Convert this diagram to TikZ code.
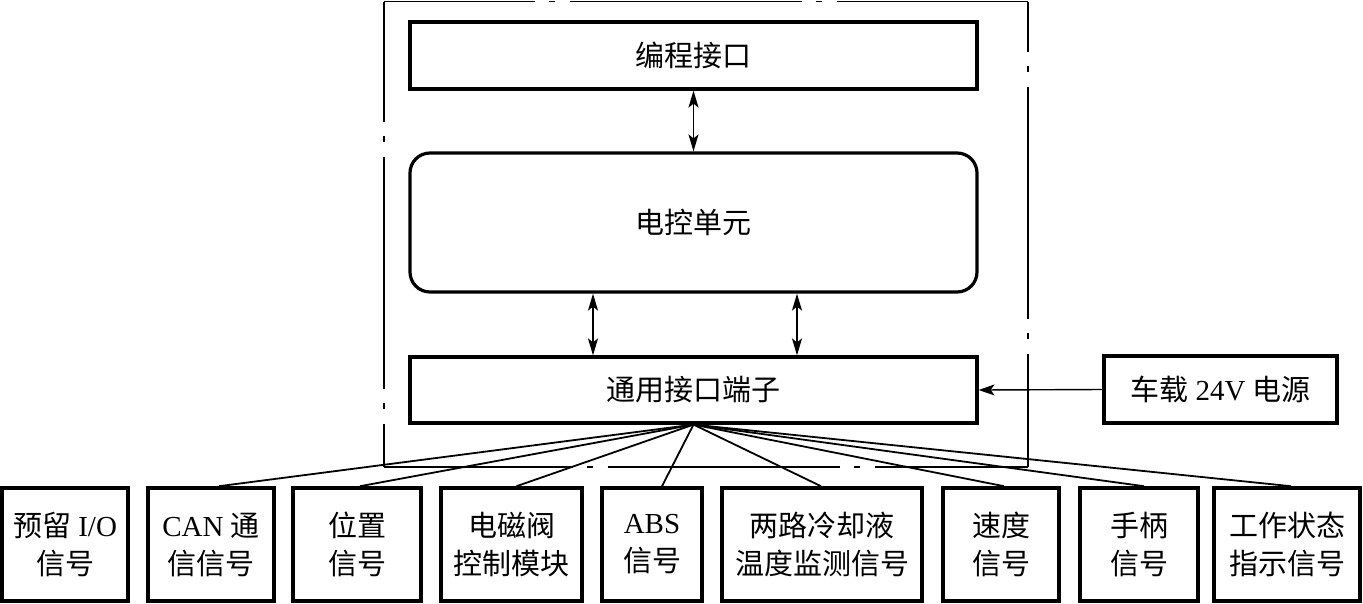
\documentclass[tikz,border=0pt]{standalone}
\usepackage{fontspec}
\setmainfont{Liberation Serif}
\newfontfamily\cjkf{Noto Sans CJK SC}
\newcommand\zhs[1]{{\cjkf #1}}
\usetikzlibrary{arrows.meta}
\begin{document}
\begin{tikzpicture}[x=1pt,y=-1pt,
  every node/.style={font=\fontsize{29}{38}\selectfont},
  blk/.style={draw,line width=3.2pt,inner sep=0pt,align=center},
  rblk/.style={blk,rounded corners=20pt},
  sig/.style={draw,line width=3.6pt,inner sep=0pt,align=center,minimum height=113pt},
  wire/.style={line width=1.8pt},
  dbl/.style={line width=1.8pt,{Stealth[length=17pt,width=10pt,inset=4pt]}-{Stealth[length=17pt,width=10pt,inset=4pt]}},
  sgl/.style={line width=1.4pt,-{Stealth[length=16pt,width=11pt,inset=4pt]}},
  outer/.style={line width=1.8pt,dash pattern=on 232pt off 14pt on 6pt off 15pt}]
\useasboundingbox (0,0) rectangle (1363,603);
% outer dash-dot frame
\draw[outer,dash phase=81.5pt] (384,1.5) -- (1028,1.5);
\draw[outer,dash phase=111.5pt] (384,1.5) -- (384,467);
\draw[outer,dash phase=181.5pt] (1028,1.5) -- (1028,467);
\draw[outer,dash phase=43.5pt] (384,467) -- (1028,467);
% main blocks
\node[blk,minimum width=567pt,minimum height=67pt] (prog) at (693.5,55.5) {\zhs{编程接口}};
\node[rblk,minimum width=567pt,minimum height=139pt] (ecu) at (693.5,222.5) {\zhs{电控单元}};
\node[blk,minimum width=567pt,minimum height=66pt] (gio) at (693.5,390) {\zhs{通用接口端子}};
\node[blk,minimum width=233pt,minimum height=67pt] (pwr) at (1220.5,389.5) {\zhs{车载} 24V \zhs{电源}};
% signal boxes
\node[sig,minimum width=126pt] (s1) at (65,544.5) {\zhs{预留} I/O\\\zhs{信号}};
\node[sig,minimum width=126pt] (s2) at (211,544.5) {CAN \zhs{通}\\\zhs{信信号}};
\node[sig,minimum width=128pt] (s3) at (357,544.5) {\zhs{位置}\\\zhs{信号}};
\node[sig,minimum width=141pt] (s4) at (511.5,544.5) {\zhs{电磁阀}\\\zhs{控制模块}};
\node[sig,minimum width=100pt] (s5) at (652,544.5) {ABS\\\zhs{信号}};
\node[sig,minimum width=200pt] (s6) at (822,544.5) {\zhs{两路冷却液}\\\zhs{温度监测信号}};
\node[sig,minimum width=116pt] (s7) at (1001,544.5) {\zhs{速度}\\\zhs{信号}};
\node[sig,minimum width=118pt] (s8) at (1139,544.5) {\zhs{手柄}\\\zhs{信号}};
\node[sig,minimum width=146pt] (s9) at (1287,544.5) {\zhs{工作状态}\\\zhs{指示信号}};
% connectors
\coordinate (xa) at (593,0);
\coordinate (xb) at (797,0);
\draw[dbl] (prog.south) -- (ecu.north);
\draw[dbl] (ecu.south -| xa) -- (gio.north -| xa);
\draw[dbl] (ecu.south -| xb) -- (gio.north -| xb);
\draw[sgl] (pwr.west) -- (gio.east);
\foreach \s/\dx in {s2/8,s3/3,s4/5,s5/10,s6/-1,s7/3,s8/5,s9/4}
  \draw[wire] (gio.south) -- ([xshift=\dx pt]\s.north);
\end{tikzpicture}
\end{document}
